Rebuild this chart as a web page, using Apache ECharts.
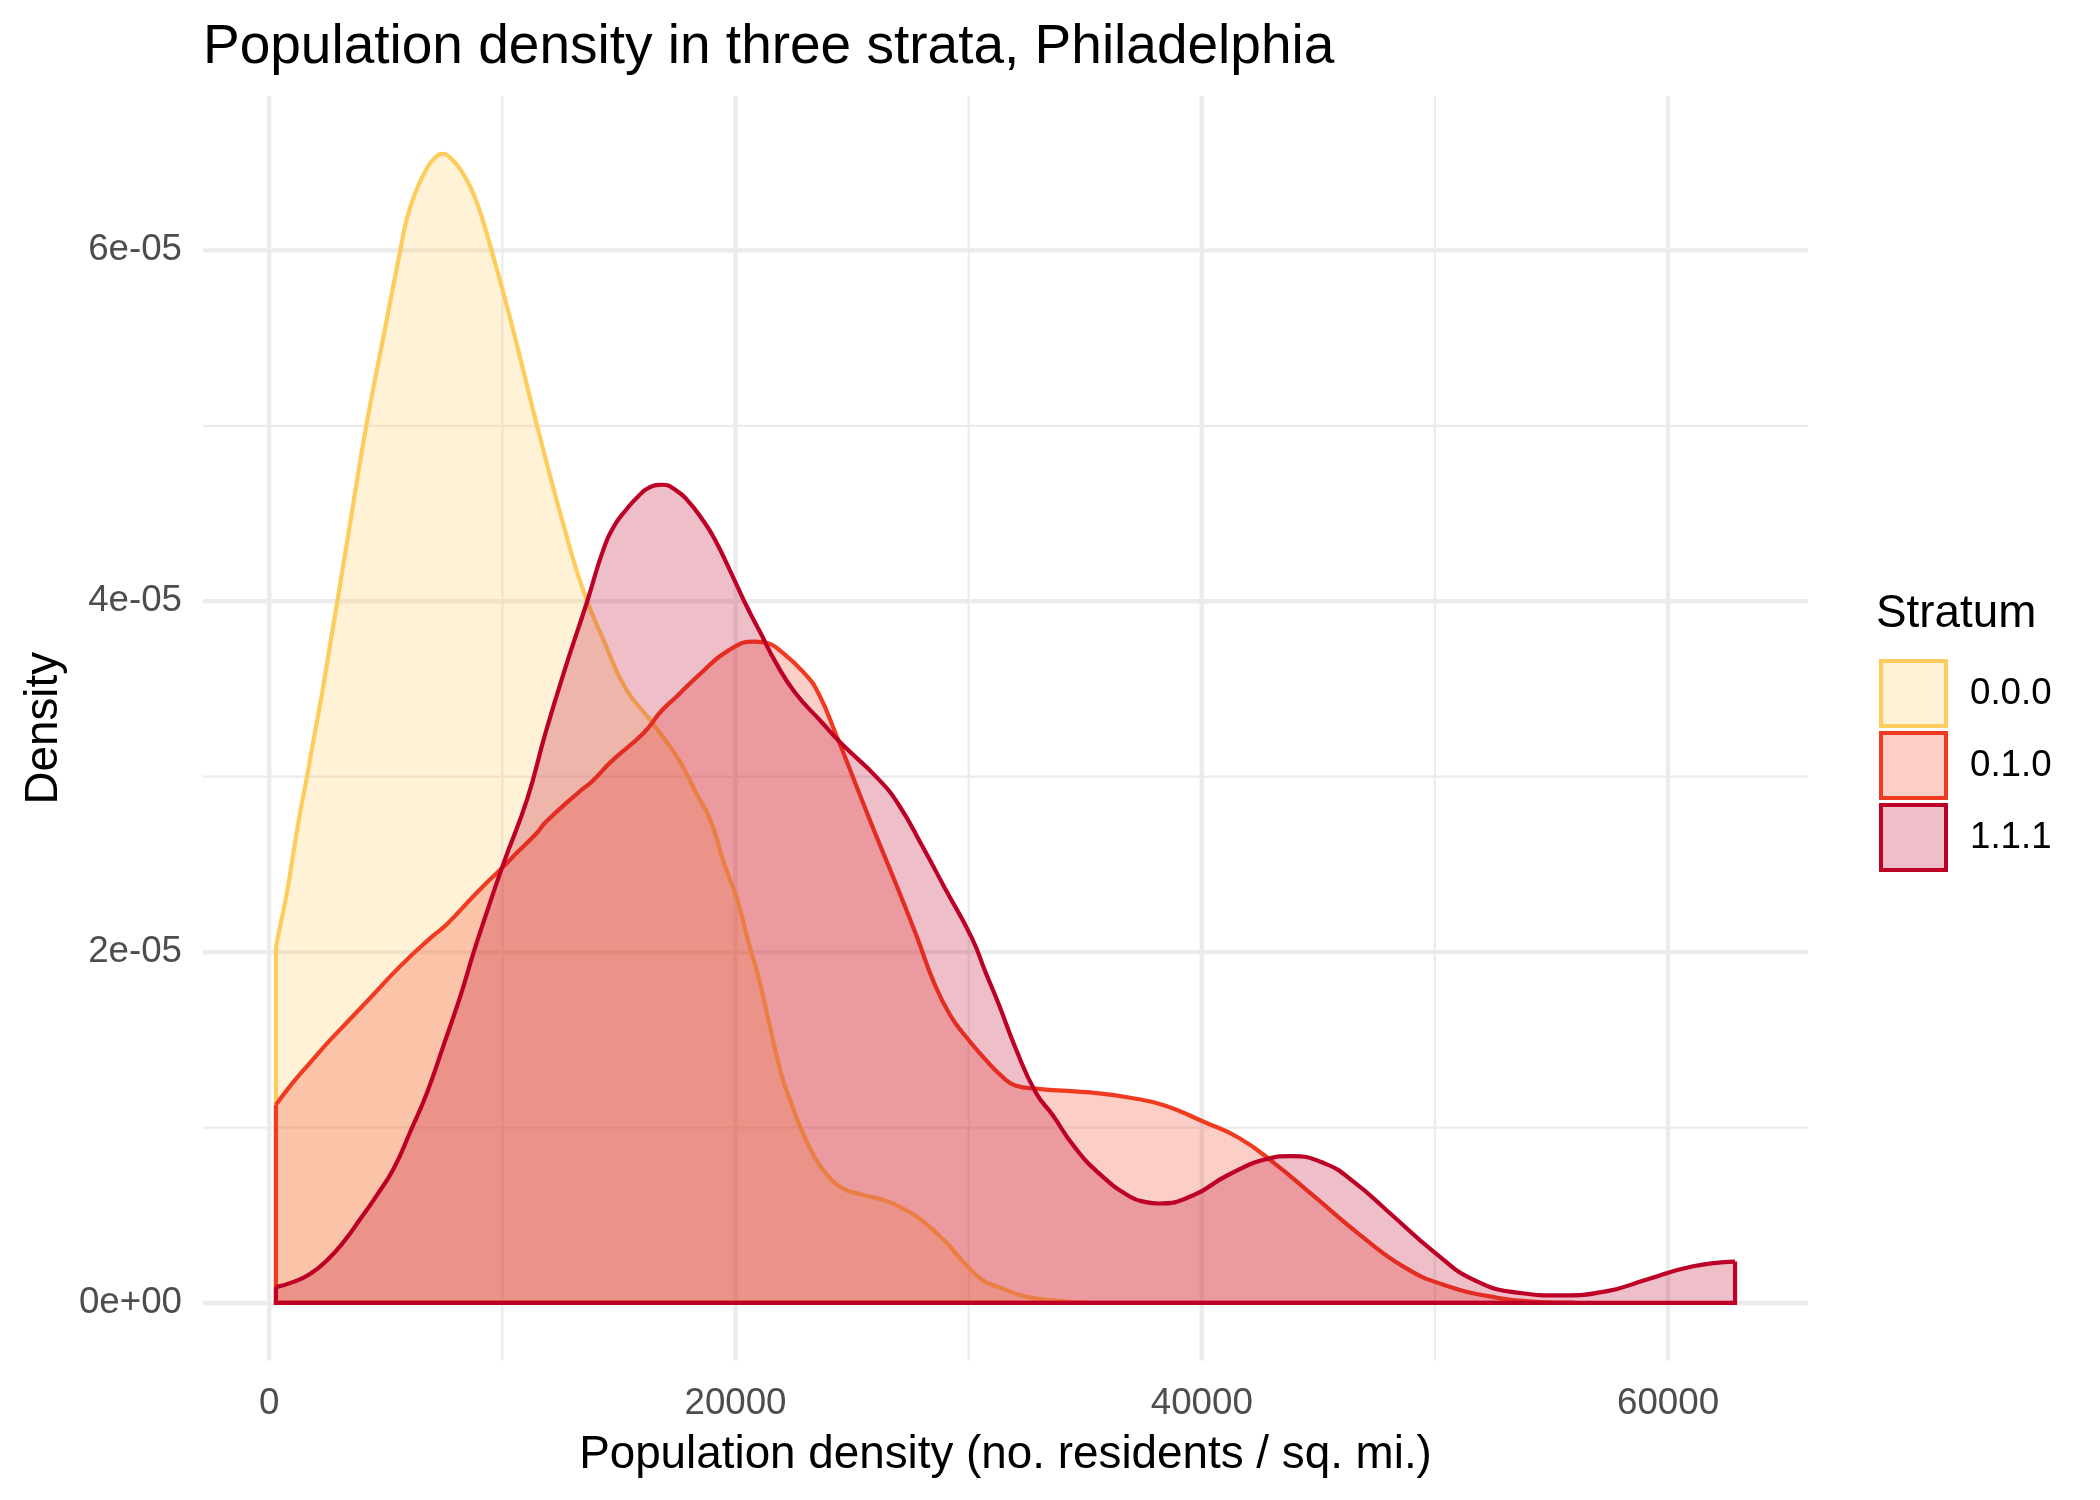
<!DOCTYPE html>
<html>
<head>
<meta charset="utf-8">
<title>Population density in three strata, Philadelphia</title>
<script src="https://cdn.jsdelivr.net/npm/echarts@6/dist/echarts.min.js"></script>
<style>
  html, body { margin: 0; padding: 0; background: #ffffff; }
  #chart { width: 2100px; height: 1500px; }
</style>
</head>
<body>
<div id="chart"></div>
<script>
// ---------------- data ----------------
const strata = ['0.0.0', '0.1.0', '1.1.1'];

// Stratum 0.0.0 density curve
const x000 = [287, 470, 760, 1040, 1330, 1620, 1900, 2260, 2620, 2920, 3500, 4160, 4900, 5620, 5910, 6270, 6770, 7050, 7410, 7900, 8300, 8630, 8910, 9130, 9490, 10060, 10700, 11490, 12590, 13500, 14400, 15300, 16300, 16920, 17640, 18300, 18930, 19500, 20070, 20550, 21000, 21930, 22360, 22790, 23360, 23930, 24640, 25360, 26500, 27300, 28000, 29000, 29800, 30600, 31300, 32500, 34000, 35000];
const y000 = [2.03e-5, 2.15e-5, 2.34e-5, 2.57e-5, 2.80e-5, 3.00e-5, 3.21e-5, 3.47e-5, 3.76e-5, 4.00e-5, 4.47e-5, 5.00e-5, 5.51e-5, 6.00e-5, 6.185e-5, 6.33e-5, 6.47e-5, 6.52e-5, 6.55e-5, 6.51e-5, 6.44e-5, 6.36e-5, 6.27e-5, 6.185e-5, 6.02e-5, 5.75e-5, 5.42e-5, 5.00e-5, 4.45e-5, 4.05e-5, 3.76e-5, 3.50e-5, 3.33e-5, 3.22e-5, 3.08e-5, 2.91e-5, 2.75e-5, 2.51e-5, 2.30e-5, 2.06e-5, 1.85e-5, 1.32e-5, 1.15e-5, 1.00e-5, 0.84e-5, 0.73e-5, 0.65e-5, 0.62e-5, 0.58e-5, 0.53e-5, 0.47e-5, 0.35e-5, 0.23e-5, 0.13e-5, 0.09e-5, 0.035e-5, 0.01e-5, 0];

// Stratum 0.1.0 density curve
const x010 = [287, 1040, 1760, 2480, 3480, 4340, 5620, 6910, 7630, 8910, 10060, 10650, 11490, 11850, 13350, 13820, 14700, 16070, 16790, 17500, 18440, 19700, 20820, 21400, 21900, 22880, 23540, 24370, 25030, 25680, 26260, 27000, 27800, 28500, 29210, 29930, 30640, 31400, 32000, 33000, 34000, 35210, 36930, 38410, 40130, 41600, 43080, 44800, 46770, 48740, 50460, 52670, 54500, 56000];
const y010 = [1.13e-5, 1.26e-5, 1.37e-5, 1.48e-5, 1.62e-5, 1.74e-5, 1.92e-5, 2.08e-5, 2.16e-5, 2.34e-5, 2.49e-5, 2.57e-5, 2.68e-5, 2.74e-5, 2.92e-5, 2.97e-5, 3.09e-5, 3.25e-5, 3.37e-5, 3.46e-5, 3.58e-5, 3.72e-5, 3.77e-5, 3.76e-5, 3.72e-5, 3.60e-5, 3.48e-5, 3.22e-5, 3.00e-5, 2.78e-5, 2.59e-5, 2.35e-5, 2.08e-5, 1.83e-5, 1.64e-5, 1.51e-5, 1.40e-5, 1.295e-5, 1.24e-5, 1.22e-5, 1.21e-5, 1.20e-5, 1.17e-5, 1.125e-5, 1.03e-5, 0.94e-5, 0.80e-5, 0.61e-5, 0.39e-5, 0.20e-5, 0.10e-5, 0.03e-5, 0.005e-5, 0];

// Stratum 1.1.1 density curve
const x111 = [287, 1040, 1760, 2480, 3190, 3910, 4620, 5340, 6050, 6770, 7480, 8200, 8770, 9340, 10060, 11060, 11850, 12700, 13640, 14320, 14800, 15300, 15800, 16290, 16870, 17450, 17940, 18600, 19090, 19750, 20410, 21070, 21730, 22550, 23700, 24530, 26100, 27000, 28070, 29000, 30140, 30710, 31300, 32020, 32880, 33610, 34480, 35580, 36930, 37600, 38160, 39640, 41110, 42840, 43820, 45290, 46520, 48000, 49970, 51690, 53650, 55380, 57340, 59060, 61030, 62875];
const y111 = [0.09e-5, 0.12e-5, 0.167e-5, 0.244e-5, 0.348e-5, 0.48e-5, 0.615e-5, 0.767e-5, 0.976e-5, 1.20e-5, 1.47e-5, 1.75e-5, 2.00e-5, 2.23e-5, 2.51e-5, 2.87e-5, 3.25e-5, 3.62e-5, 4.00e-5, 4.29e-5, 4.43e-5, 4.52e-5, 4.594e-5, 4.647e-5, 4.664e-5, 4.632e-5, 4.575e-5, 4.462e-5, 4.358e-5, 4.179e-5, 3.99e-5, 3.82e-5, 3.65e-5, 3.48e-5, 3.31e-5, 3.19e-5, 2.99e-5, 2.84e-5, 2.59e-5, 2.36e-5, 2.08e-5, 1.89e-5, 1.70e-5, 1.45e-5, 1.20e-5, 1.07e-5, 0.90e-5, 0.74e-5, 0.605e-5, 0.575e-5, 0.567e-5, 0.614e-5, 0.728e-5, 0.822e-5, 0.837e-5, 0.794e-5, 0.69e-5, 0.52e-5, 0.29e-5, 0.13e-5, 0.057e-5, 0.043e-5, 0.066e-5, 0.132e-5, 0.208e-5, 0.236e-5];

// axis ticks / grid
const xMajor = [0, 20000, 40000, 60000];
const xMinor = [10000, 30000, 50000];
const yMajor = [0, 2e-5, 4e-5, 6e-5];
const yMinor = [1e-5, 3e-5, 5e-5];
const xRange = [-2842, 66004];
const yRange = [-3.28e-6, 6.88e-5];

// ---------------- styles ----------------
const lineColors = ['#FECC5C', '#F03B20', '#BD0026'];
const fillAlpha = 0.25;
const FONT = 'Liberation Sans, Arial, sans-serif';
const LW = 4.2;

function rgba(hex, a) {
  const n = parseInt(hex.slice(1), 16);
  return 'rgba(' + ((n >> 16) & 255) + ',' + ((n >> 8) & 255) + ',' + (n & 255) + ',' + a + ')';
}
function sci(v) {
  if (v === 0) return '0e+00';
  const parts = v.toExponential(0).split('e');
  const e = parts[1];
  return parts[0] + 'e' + e[0] + e.slice(1).padStart(2, '0');
}
function zip(xs, ys) { return xs.map((x, i) => [x, ys[i]]); }

const series = [];
// grid lines: each is a two-point line through the axes' own scales
function gridSeries(points, width) {
  return {
    type: 'line', data: points, z: 0, silent: true, symbol: 'none', showSymbol: false,
    lineStyle: { color: '#EBEBEB', width: width, cap: 'butt' },
    emphasis: { disabled: true }, tooltip: { show: false }
  };
}
xMinor.forEach(v => series.push(gridSeries([[v, yRange[0]], [v, yRange[1]]], 2.2)));
yMinor.forEach(v => series.push(gridSeries([[xRange[0], v], [xRange[1], v]], 2.2)));
xMajor.forEach(v => series.push(gridSeries([[v, yRange[0]], [v, yRange[1]]], 4.4)));
yMajor.forEach(v => series.push(gridSeries([[xRange[0], v], [xRange[1], v]], 4.4)));

const curves = [[x000, y000], [x010, y010], [x111, y111]];
curves.forEach((c, i) => {
  const xs = c[0], ys = c[1];
  series.push({
    name: strata[i], type: 'line', data: zip(xs, ys), z: 2 + i,
    smooth: 0.5, symbol: 'none', showSymbol: false, silent: true,
    lineStyle: { color: lineColors[i], width: LW, join: 'round' },
    itemStyle: { color: lineColors[i] },
    areaStyle: { color: lineColors[i], opacity: fillAlpha },
    emphasis: { disabled: true }
  });
  const n = xs.length - 1;
  series.push({
    name: strata[i], type: 'line', z: 2 + i, silent: true,
    data: [[xs[n], ys[n]], [xs[n], 0], [xs[0], 0], [xs[0], ys[0]]],
    smooth: false, symbol: 'none', showSymbol: false,
    lineStyle: { color: lineColors[i], width: LW, join: 'miter' },
    itemStyle: { color: lineColors[i] },
    emphasis: { disabled: true }
  });
});

const chart = echarts.init(document.getElementById('chart'), null, { renderer: 'canvas' });
chart.setOption({
  animation: false,
  backgroundColor: '#ffffff',
  title: [
    {
      text: 'Population density in three strata, Philadelphia',
      left: 203, top: 20, padding: 0,
      textStyle: { fontFamily: FONT, fontSize: 55, fontWeight: 'normal', color: '#000000' }
    },
    {
      text: 'Stratum',
      left: 1876, top: 591, padding: 0,
      textStyle: { fontFamily: FONT, fontSize: 45.8, fontWeight: 'normal', color: '#000000' }
    }
  ],
  legend: {
    orient: 'vertical', left: 1879, top: 659, padding: 0,
    itemWidth: 65, itemHeight: 65, itemGap: 3, icon: 'rect',
    selectedMode: false,
    data: strata.map((s, i) => ({
      name: s,
      itemStyle: { color: rgba(lineColors[i], fillAlpha), borderColor: lineColors[i], borderWidth: 4 }
    })),
    textStyle: { fontFamily: FONT, fontSize: 36.7, color: '#000000', padding: [0, 0, 0, 19] }
  },
  grid: { left: 203, right: 292, top: 96, bottom: 139.5, containLabel: false },
  xAxis: {
    type: 'value', min: xRange[0], max: xRange[1],
    axisLine: { show: false }, axisTick: { show: false }, splitLine: { show: false },
    axisLabel: {
      customValues: xMajor, fontFamily: FONT, fontSize: 36.7, color: '#4D4D4D', margin: 25,
      formatter: v => String(v)
    },
    name: 'Population density (no. residents / sq. mi.)',
    nameLocation: 'middle', nameGap: 72,
    nameTextStyle: { fontFamily: FONT, fontSize: 45.8, color: '#000000' }
  },
  yAxis: {
    type: 'value', min: yRange[0], max: yRange[1],
    axisLine: { show: false }, axisTick: { show: false }, splitLine: { show: false },
    axisLabel: {
      customValues: yMajor, fontFamily: FONT, fontSize: 36.7, color: '#4D4D4D', margin: 21,
      formatter: v => sci(v)
    },
    name: 'Density', nameLocation: 'middle', nameRotate: 90, nameGap: 136,
    nameTextStyle: { fontFamily: FONT, fontSize: 45.8, color: '#000000' }
  },
  series: series
});
</script>
</body>
</html>
